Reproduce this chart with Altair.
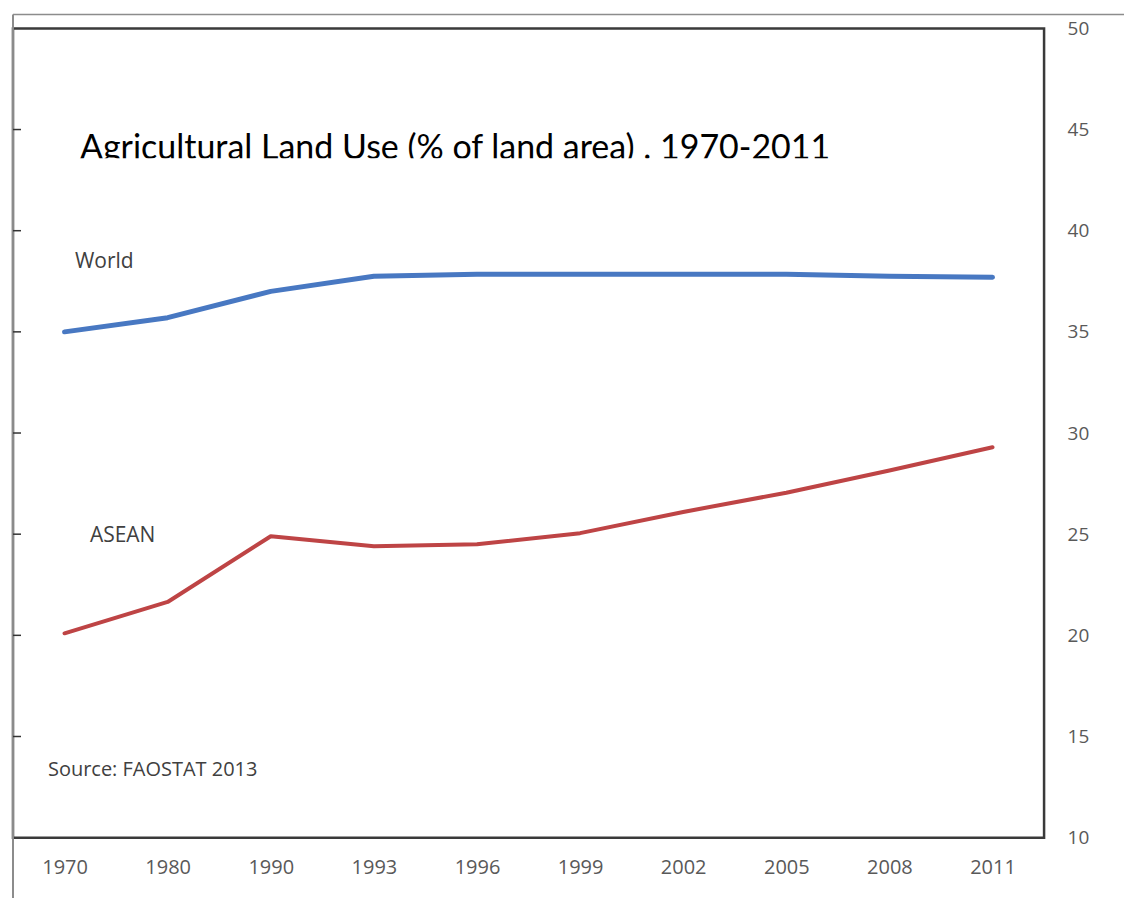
import altair as alt
import pandas as pd

years = ["1970", "1980", "1990", "1993", "1996", "1999", "2002", "2005", "2008", "2011"]
world = [35.0, 35.7, 37.0, 37.75, 37.85, 37.85, 37.85, 37.85, 37.75, 37.7]
asean = [20.1, 21.65, 24.9, 24.4, 24.5, 25.05, 26.1, 27.05, 28.15, 29.3]
y_ticks = [10, 15, 20, 25, 30, 35, 40, 45, 50]
left_ticks = [15, 20, 25, 30, 35, 40, 45]

W, H = 1032, 810

df = pd.DataFrame({
    "year": years * 2,
    "value": world + asean,
    "series": ["World"] * len(years) + ["ASEAN"] * len(years),
})

x_enc = alt.X("year:O", sort=years,
              scale=alt.Scale(type="point", padding=0.5),
              axis=alt.Axis(title=None, labelAngle=0, domain=False, ticks=False,
                            labelPadding=20, labelFontSize=20, labelColor="#595959",
                            labelFont="Open Sans"))
y_scale = alt.Scale(domain=[10, 50], nice=False, zero=False)
y_axis = alt.Axis(orient="right", values=y_ticks, title=None, domain=False,
                  ticks=False, grid=False, labelPadding=23, labelFontSize=19,
                  labelColor="#595959", labelFont="Open Sans", labelAlign="left")

lines = alt.Chart(df).mark_line(strokeCap="round", strokeJoin="round").encode(
    x=x_enc,
    y=alt.Y("value:Q", scale=y_scale, axis=y_axis),
    color=alt.Color("series:N", scale=alt.Scale(domain=["World", "ASEAN"],
                                                range=["#4878C2", "#BE4445"]), legend=None),
    strokeWidth=alt.StrokeWidth("series:N", scale=alt.Scale(domain=["World", "ASEAN"],
                                                            range=[5, 4]), legend=None),
)

tick_df = pd.DataFrame({"value": left_ticks})
left_tick_marks = alt.Chart(tick_df).mark_rule(color="#333333", strokeWidth=1.5).encode(
    y=alt.Y("value:Q", scale=y_scale, axis=y_axis),
    x=alt.value(0),
    x2=alt.value(8),
)

# outer screenshot frame
frame_top = alt.Chart(pd.DataFrame({"a": [0]})).mark_rule(color="#8c8c8c", strokeWidth=1.5).encode(
    x=alt.value(0), x2=alt.value(1119), y=alt.value(-14))
frame_left = alt.Chart(pd.DataFrame({"a": [0]})).mark_rule(color="#8c8c8c", strokeWidth=2).encode(
    x=alt.value(0), y=alt.value(-14), y2=alt.value(873))

def label(text, x, y, size, font="Open Sans", color="#404040", baseline="middle"):
    return alt.Chart(pd.DataFrame({"t": [text]})).mark_text(
        align="left", baseline=baseline, fontSize=size, font=font, color=color
    ).encode(text="t:N", x=alt.value(x), y=alt.value(y))

title = label("Agricultural Land Use (% of land area) . 1970-2011", 67, 131, 34,
              font="Lato", color="#000000", baseline="alphabetic")
# the title is cut off just below its baseline in the original
title_cut = alt.Chart(pd.DataFrame({"a": [0]})).mark_rect(color="#ffffff").encode(
    x=alt.value(60), x2=alt.value(870), y=alt.value(130), y2=alt.value(142))
world_lbl = label("World", 62, 234, 21)
asean_lbl = label("ASEAN", 77, 508, 21)
source_lbl = label("Source: FAOSTAT 2013", 35, 742, 20)

chart = alt.layer(
    frame_top, frame_left, lines, left_tick_marks, title, title_cut,
    world_lbl, asean_lbl, source_lbl
).properties(
    width=W, height=H,
    autosize=alt.AutoSizeParams(type="none"),
    padding={"left": 5, "top": 20, "right": 80, "bottom": 60},
    background="#ffffff",
).configure_view(stroke="#3a3a3a", strokeWidth=2.5)

chart.save("out.html", embed_options={"renderer": "svg", "actions": False})
